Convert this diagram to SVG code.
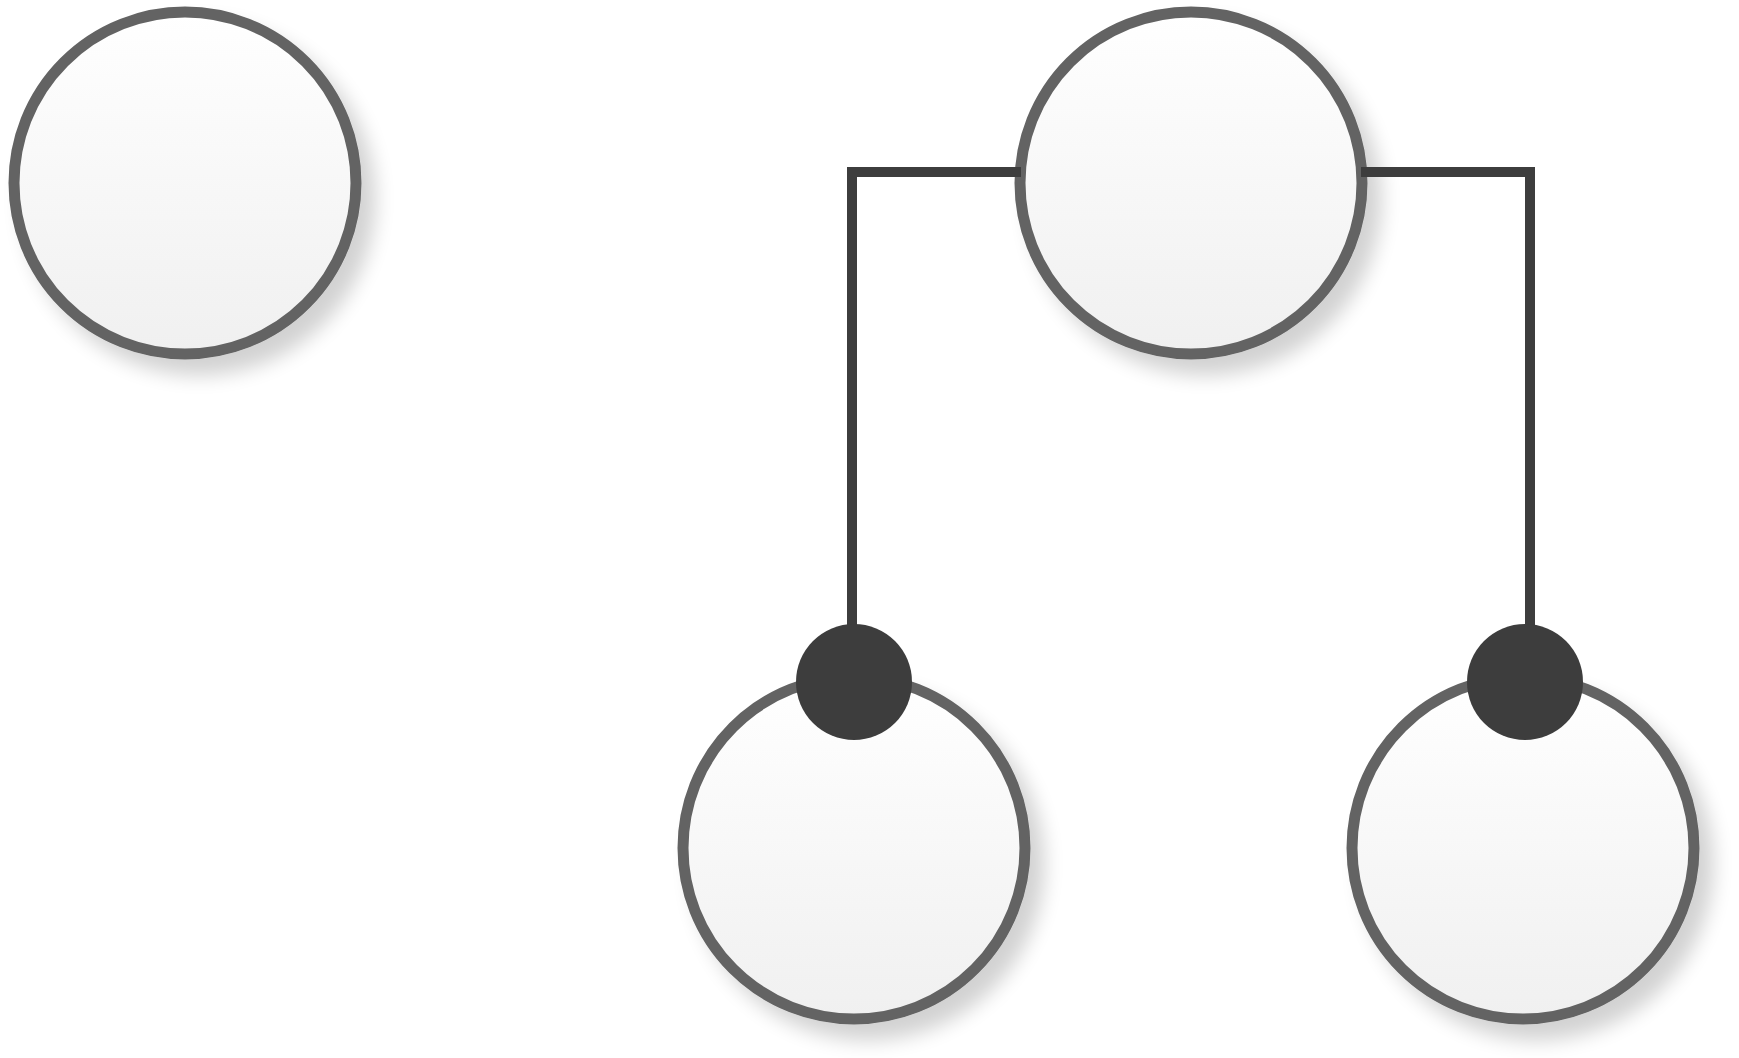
<svg xmlns="http://www.w3.org/2000/svg" width="1739" height="1058" viewBox="0 0 1739 1058">
  <defs>
    <linearGradient id="g" x1="0" y1="0" x2="0" y2="1">
      <stop offset="0" stop-color="#ffffff"/>
      <stop offset="1" stop-color="#f0f0f0"/>
    </linearGradient>
    <filter id="sh" x="-20%" y="-20%" width="150%" height="150%">
      <feGaussianBlur in="SourceAlpha" stdDeviation="10"/>
      <feOffset dx="14" dy="16" result="b"/>
      <feComponentTransfer><feFuncA type="linear" slope="0.18"/></feComponentTransfer>
      <feMerge><feMergeNode/><feMergeNode in="SourceGraphic"/></feMerge>
    </filter>
  </defs>
  <style>
    .node { fill: url(#g); stroke: #636363; stroke-width: 11; filter: url(#sh); }
    .conn { fill: none; stroke: #3d3d3d; stroke-width: 10; }
    .dot { fill: #3d3d3d; }
  </style>
  <rect width="1739" height="1058" fill="#ffffff"/>
  <g id="node-a"><circle class="node" cx="185" cy="183" r="171"/></g>
  <g id="node-b"><circle class="node" cx="1191" cy="183" r="171"/></g>
  <g id="node-c"><circle class="node" cx="854" cy="848" r="171"/></g>
  <g id="node-d"><circle class="node" cx="1523" cy="848" r="171"/></g>
  <g id="connectors">
    <path class="conn" d="M1021 172 H852 V680"/>
    <path class="conn" d="M1361 172 H1530 V680"/>
    <circle class="dot" cx="854" cy="682" r="58"/>
    <circle class="dot" cx="1525" cy="682" r="58"/>
  </g>
</svg>
